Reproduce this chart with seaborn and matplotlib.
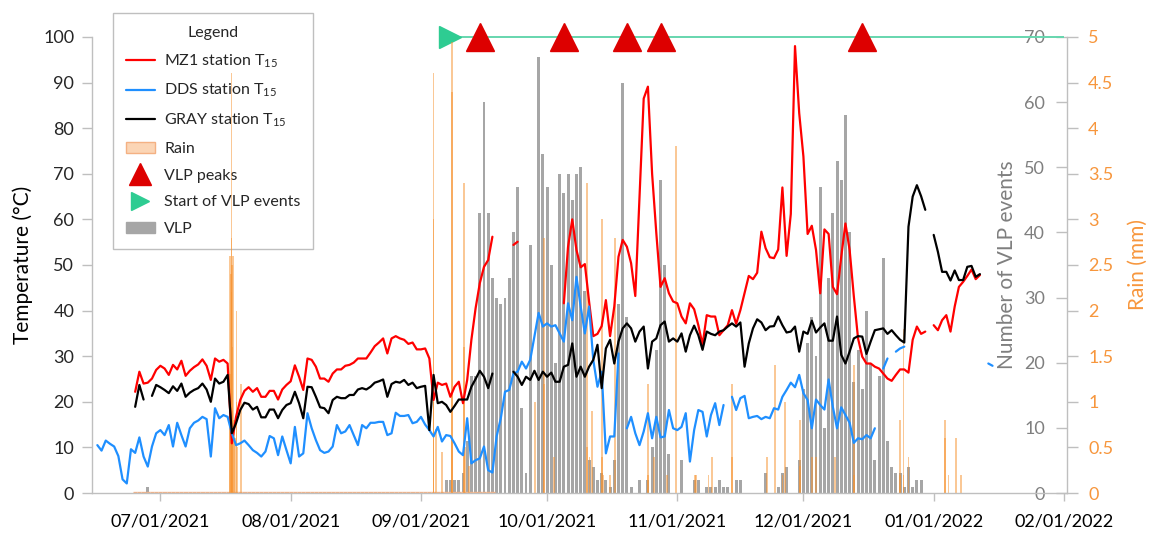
import numpy as np
import pandas as pd
import matplotlib
matplotlib.use("Agg")
import matplotlib.pyplot as plt
import matplotlib.dates as mdates
from matplotlib.lines import Line2D
from matplotlib.patches import Patch
import seaborn as sns

nan = np.nan

# Daily soil temperature at 15 cm (deg C)
mz1_start = "2021-06-25"
mz1_temp = [
    22.2, 26.6, 24.0, 24.2, 25.1, 27.0, 27.9, 27.3, 25.9, 28.1,
    27.1, 29.0, 25.7, 26.8, 27.6, 28.2, 29.3, 27.9, 24.8, 29.5,
    28.8, 29.2, 28.4, 10.9, 16.7, 20.4, 22.4, 23.2, 22.2, 23.0,
    21.1, 21.1, 22.4, 22.4, 20.5, 22.7, 23.7, 24.5, 28.0, 25.5,
    22.6, 29.5, 29.2, 27.7, 25.1, 25.1, 24.4, 26.2, 27.1, 27.1,
    27.9, 28.1, 28.6, 29.5, 29.5, 29.5, 30.8, 32.2, 33.0, 33.9,
    30.6, 33.9, 34.4, 33.9, 33.6, 32.7, 33.0, 31.5, 31.5, 31.7,
    29.5, 20.4, 24.2, 23.7, 24.0, 21.1, 23.3, 24.4, 19.7, 24.8,
    33.6, 40.5, 46.0, 49.6, 51.1, 56.2, nan, nan, nan, nan,
    54.4, 55.1, nan, nan, nan, nan, nan, nan, nan, nan,
    nan, nan, 41.6, 54.0, 60.0, 53.3, 49.5, 50.2, 42.0, 34.4,
    34.9, 36.6, 42.3, 34.4, 40.9, 51.8, 55.5, 54.0, 50.4, 43.2,
    65.0, 86.5, 89.1, 70.0, 57.0, 45.2, 47.1, 43.8, 42.0, 41.6,
    38.7, 37.2, 41.6, 40.3, 36.8, 32.5, 39.0, 38.7, 38.7, 34.6,
    35.7, 36.8, 40.1, 37.1, 40.1, 43.8, 47.6, 46.9, 48.3, 57.3,
    53.7, 51.7, 51.5, 53.4, 67.0, 52.0, 61.2, 98.0, 83.3, 73.8,
    56.8, 58.6, 53.3, 43.8, 57.8, 56.8, 45.2, 43.6, 51.8, 59.1,
    53.3, 43.1, 33.9, 29.9, 28.4, 28.4, 27.7, 27.3, 26.2, 25.1,
    24.6, 25.9, 27.1, 27.1, 26.4, 33.6, 36.5, 34.9, 35.4, nan,
    36.8, 35.7, 37.9, 39.0, 35.4, 40.9, 45.2, 46.3, 47.6, 49.0,
    46.9, 47.8,
]

dds_start = "2021-06-16"
dds_temp = [
    10.5, 9.3, 11.5, 10.8, 10.2, 8.1, 3.0, 2.1, 9.6, 8.8,
    12.2, 8.0, 5.8, 10.2, 13.1, 13.8, 12.7, 14.9, 10.2, 15.4,
    12.7, 10.2, 14.2, 15.4, 15.9, 16.7, 16.2, 8.0, 18.6, 16.4,
    17.1, 16.7, 13.1, 10.5, 10.9, 11.5, 10.5, 9.4, 8.8, 8.0,
    9.1, 12.5, 12.0, 8.3, 12.4, 9.4, 6.5, 14.5, 8.0, 8.7,
    17.5, 14.2, 11.6, 9.4, 8.8, 9.1, 10.2, 14.9, 13.1, 13.5,
    14.9, 12.7, 10.5, 14.9, 14.2, 15.4, 15.4, 15.6, 15.6, 12.7,
    13.1, 17.6, 16.9, 16.9, 17.1, 15.3, 15.6, 16.7, 15.0, 13.8,
    12.4, 14.5, 11.3, 12.7, 12.5, 10.9, 9.1, 8.3, 16.4, 6.5,
    7.2, 7.6, 10.2, 5.0, 4.5, 12.4, 16.4, 22.2, 22.6, 26.2,
    26.6, 28.8, 27.3, 29.2, 34.3, 39.5, 36.5, 37.2, 36.5, 36.8,
    35.0, 33.2, 41.6, 37.9, 47.4, 40.9, 35.0, 40.9, 29.2, 23.3,
    26.6, 8.7, 12.4, 12.4, 30.6, nan, 14.2, 16.7, 13.1, 10.5,
    13.5, 17.5, 12.0, 16.7, 12.2, 12.4, 18.2, 14.2, 13.8, 14.5,
    17.5, 6.9, 13.8, 18.2, 17.8, 12.4, 17.1, 19.7, 14.9, 19.3,
    nan, 21.1, 18.2, 20.8, 21.3, 16.4, 16.7, 16.9, 16.2, 16.7,
    16.4, 18.6, 18.3, 21.1, 22.6, 24.2, 23.2, 25.9, 21.9, 20.4,
    14.2, 20.5, 19.3, 18.3, 24.9, 18.9, 14.2, 18.8, 17.1, 15.4,
    11.0, 12.0, 11.8, 12.7, 12.0, 14.2, nan, 27.3, 29.5, nan,
    31.0, 31.7, 32.1, nan, nan, nan, nan, nan, nan, nan,
    nan, nan, nan, nan, nan, nan, nan, nan, nan, nan,
    nan, nan, 28.4, 27.9,
]

gray_start = "2021-06-25"
gray_temp = [
    18.9, 23.7, 20.5, nan, 21.3, 23.7, 23.2, 22.6, 21.9, 23.4,
    22.4, 24.0, 21.1, 22.0, 22.6, 23.0, 24.0, 22.7, 20.0, 25.1,
    24.0, 24.4, 25.9, 13.1, 15.3, 18.2, 19.8, 19.5, 18.3, 18.9,
    16.6, 16.6, 18.3, 18.3, 16.4, 18.2, 19.3, 19.7, 22.2, 19.7,
    16.4, 23.3, 23.2, 21.1, 18.8, 18.6, 17.5, 20.4, 21.1, 20.8,
    20.8, 21.5, 21.5, 22.7, 23.0, 22.7, 23.3, 24.2, 24.5, 24.9,
    21.1, 23.9, 24.4, 24.2, 24.8, 23.7, 24.2, 23.0, 23.3, 23.5,
    13.8, 25.9, 19.7, 20.0, 19.3, 17.8, 19.1, 20.5, 20.5, 20.5,
    23.3, 25.0, 26.8, 25.5, 23.0, 26.2, nan, nan, nan, nan,
    26.6, 25.5, 23.7, 25.5, 24.8, 26.8, 24.8, 26.6, 25.5, 26.4,
    24.4, 24.4, 27.7, 28.1, 32.8, 25.5, 27.7, 25.5, 27.7, 29.2,
    32.5, 23.0, 31.7, 33.6, 28.4, 33.2, 36.1, 37.2, 36.1, 33.2,
    35.4, 36.5, 27.3, 33.2, 33.9, 36.8, 37.6, 33.2, 33.9, 33.2,
    35.0, 31.0, 34.6, 36.7, 34.6, 31.4, 35.4, 34.9, 34.6, 35.4,
    35.7, 36.5, 37.2, 36.5, 37.4, 27.7, 32.8, 36.1, 38.1, 37.4,
    35.7, 36.5, 36.6, 38.7, 36.8, 35.2, 35.4, 36.5, 31.0, 35.4,
    34.9, 37.8, 35.2, 36.3, 37.2, 33.4, 33.4, 38.7, 30.3, 28.4,
    31.0, 33.9, 34.4, 34.3, 30.5, 33.2, 35.7, 35.9, 36.1, 34.9,
    35.7, 34.6, 33.6, 33.0, 58.4, 65.0, 67.5, 65.1, 62.1, nan,
    56.6, 52.9, 48.5, 48.5, 46.6, 48.8, 46.7, 46.7, 49.6, 49.8,
    47.4, 48.0,
]

# Daily number of VLP events
vlp_early_days = ["2021-06-28"]
vlp_early_count = [1]
vlp_start = "2021-09-07"
vlp_count = [
    2, 2, 2, 2, 3, 8, 18, 18, 43, 60,
    43, 33, 30, 29, 30, 33, 40, 47, 13, 3,
    38, 0, 67, 52, 47, 35, 20, 49, 46, 49,
    45, 49, 50, 31, 5, 4, 2, 3, 2, 1,
    5, 29, 63, 27, 1, 0, 2, 0, 2, 7,
    22, 48, 35, 6, 0, 0, 5, 0, 0, 2,
    2, 0, 1, 1, 1, 2, 1, 1, 0, 2,
    2, 0, 0, 0, 0, 0, 3, 0, 0, 1,
    3, 4, 0, 0, 5, 16, 23, 27, 21, 47,
    10, 33, 43, 51, 48, 58, 40, 17, 22, 16,
    28, 20, 5, 18, 36, 8, 4, 3, 3, 1,
    4, 1, 2, 2,
]

# Rain records (mm); records at the same time overlap
rain_time = [
    "2021-07-17 12:00", "2021-07-17 15:00", "2021-07-17 18:00", "2021-07-17 22:00",
    "2021-07-17 22:00", "2021-07-17 22:00", "2021-07-18 02:00", "2021-07-18 04:00",
    "2021-07-18 04:00", "2021-07-18 08:00", "2021-07-18 12:00", "2021-07-18 18:00",
    "2021-07-19 02:00", "2021-07-19 02:00", "2021-07-19 08:00", "2021-07-20 03:00",
    "2021-09-04 00:00", "2021-09-04 00:00", "2021-09-04 00:00", "2021-09-04 12:00",
    "2021-09-06 00:00", "2021-09-08 10:00", "2021-09-08 10:00", "2021-09-08 10:00",
    "2021-09-11 05:00", "2021-09-11 05:00", "2021-09-11 12:00", "2021-09-12 10:00",
    "2021-09-28 05:00", "2021-09-30 05:00", "2021-09-30 05:00", "2021-10-02 17:00",
    "2021-10-10 12:00", "2021-10-10 12:00", "2021-10-11 02:00", "2021-10-11 17:00",
    "2021-10-14 00:00", "2021-10-14 00:00", "2021-10-14 10:00", "2021-10-16 00:00",
    "2021-10-17 05:00", "2021-10-25 02:00", "2021-10-25 02:00", "2021-10-26 12:00",
    "2021-10-29 12:00", "2021-10-31 17:00",
    "2021-11-05 05:00", "2021-11-05 12:00", "2021-11-08 10:00", "2021-11-09 05:00",
    "2021-11-14 00:00", "2021-11-14 00:00", "2021-11-22 07:00", "2021-11-24 07:00",
    "2021-11-26 00:00", "2021-11-26 14:00", "2021-11-30 05:00", "2021-11-30 05:00",
    "2021-12-03 00:00", "2021-12-04 00:00", "2021-12-08 12:00", "2021-12-13 02:00",
    "2021-12-13 02:00", "2021-12-24 00:00", "2021-12-24 00:00", "2021-12-24 19:00",
    "2021-12-24 19:00", "2021-12-26 00:00",
    "2022-01-03 17:00", "2022-01-03 17:00", "2022-01-04 12:00", "2022-01-06 07:00",
    "2022-01-07 14:00",
]
rain_mm = [
    1.3, 2.6, 2.4, 4.6,
    2.8, 2.2, 2.5, 1.6,
    0.9, 2.6, 0.8, 0.6,
    2.0, 1.0, 0.5, 1.2,
    4.6, 3.0, 1.0, 0.7,
    0.45, 4.95, 4.4, 0.6,
    3.4, 1.6, 0.5, 0.3,
    1.0, 2.8, 1.2, 0.4,
    3.4, 0.5, 0.4, 0.9,
    3.0, 0.4, 0.2, 0.2,
    2.8, 1.2, 0.2, 0.4,
    0.2, 3.8,
    0.2, 0.2, 0.2, 0.4,
    1.2, 0.4, 0.4, 1.4,
    0.2, 1.0, 0.8, 0.3,
    0.4, 0.4, 0.4, 1.4,
    0.2, 0.8, 0.2, 1.8,
    0.2, 0.4,
    0.8, 0.6, 0.2, 0.6,
    0.2,
]
rain_record_first = "2021-06-25"
rain_record_last = "2021-09-18"

vlp_onset = ["2021-09-08"]
vlp_peaks = ["2021-09-15", "2021-10-05", "2021-10-20", "2021-10-28", "2021-12-15"]
window_end = "2022-02-01"

RED = "#FF0000"
BLUE = "#1F8FFF"
ORANGE = "#F7922E"
RAIN_TXT = "#F7963C"
GREY_TXT = "#7F7F7F"
AXIS_GREY = "#BFBFBF"
VLP_MAX = 70

sns.set_theme(style="white")
plt.rcParams["font.family"] = ["Lato", "DejaVu Sans"]
plt.rcParams["mathtext.default"] = "regular"

fig, ax = plt.subplots(figsize=(11.49, 5.39), dpi=100)
fig.subplots_adjust(left=0.0803, right=0.9289, bottom=0.0853, top=0.9314)
ax_v = ax.twinx()
ax_r = ax.twinx()
ax_v.set_zorder(1)
ax_r.set_zorder(2)
ax.set_zorder(3)
for a in (ax, ax_v, ax_r):
    a.patch.set_visible(False)

# VLP counts
vlp = pd.concat([
    pd.Series(vlp_early_count, index=pd.to_datetime(vlp_early_days)),
    pd.Series(vlp_count, index=pd.date_range(vlp_start, periods=len(vlp_count))),
])
ax_v.bar(vlp.index, vlp.values, width=0.7, color="#A6A6A6", linewidth=0)

# VLP window line and markers along the top
ax_v.hlines(VLP_MAX, pd.Timestamp(vlp_onset[0]), pd.Timestamp(window_end),
            color="#66D6AE", lw=1.4, zorder=3, clip_on=False)
ax_v.plot(pd.to_datetime(vlp_peaks), [VLP_MAX] * len(vlp_peaks), ls="none",
          marker="^", ms=20, color="#DD0000", zorder=5, clip_on=False)
ax_v.plot(pd.to_datetime(vlp_onset), [VLP_MAX], ls="none", marker=">", ms=16,
          color="#2ECC92", zorder=5, clip_on=False)

# rain
rec_days = pd.date_range(rain_record_first, rain_record_last)
ax_r.bar(rec_days, np.zeros(len(rec_days)), width=1.0, color="none",
         edgecolor="#F4B183", linewidth=2.4)
ax_r.bar(pd.to_datetime(rain_time), rain_mm, width=0.42, color=ORANGE,
         alpha=0.5, linewidth=0)

# temperatures
series = [
    (mz1_start, mz1_temp, RED),
    (dds_start, dds_temp, BLUE),
    (gray_start, gray_temp, "black"),
]
for start, vals, col in series:
    s = pd.Series(vals, index=pd.date_range(start, periods=len(vals)))
    ax.plot(s.index, s.values, color=col, lw=1.6)

# axes
ax.set_xlim(pd.Timestamp("2021-06-14 19:00"), pd.Timestamp("2022-02-01 19:00"))
ax.set_ylim(0, 100)
ax.set_yticks(range(0, 101, 10))
ax.xaxis.set_major_locator(mdates.MonthLocator())
ax.xaxis.set_major_formatter(mdates.DateFormatter("%m/%d/%Y"))
ax.tick_params(axis="x", bottom=True, direction="out", length=6, width=1,
               color=AXIS_GREY, pad=9, labelsize=13, labelcolor="black")
ax.tick_params(axis="y", left=True, direction="out", length=7, width=1,
               color=AXIS_GREY, pad=6, labelsize=13, labelcolor="#262626")
for side in ("top", "right"):
    ax.spines[side].set_visible(False)
for side in ("left", "bottom"):
    ax.spines[side].set_color(AXIS_GREY)
    ax.spines[side].set_linewidth(1)
ax.set_ylabel("Temperature (°C)", fontsize=15, color="black")
ax.yaxis.set_label_coords(-0.061, 0.5)

ax_v.set_ylim(0, VLP_MAX)
ax_v.set_yticks(range(0, VLP_MAX + 1, 10))
ax_v.tick_params(axis="y", right=True, left=False, direction="in", length=8,
                 width=1, color=AXIS_GREY, pad=-16, labelsize=13,
                 labelcolor=GREY_TXT)
for lab in ax_v.get_yticklabels():
    lab.set_horizontalalignment("right")
for side in ax_v.spines:
    ax_v.spines[side].set_visible(False)
ax_v.set_ylabel("Number of VLP events", fontsize=15, color=GREY_TXT)
ax_v.yaxis.set_label_coords(0.928, 0.5)

ax_r.set_ylim(0, 5)
ax_r.set_yticks(np.arange(0, 5.01, 0.5))
ax_r.yaxis.set_major_formatter(matplotlib.ticker.FormatStrFormatter("%g"))
ax_r.tick_params(axis="y", right=True, left=False, direction="out", length=8,
                 width=1, color=AXIS_GREY, pad=7, labelsize=13,
                 labelcolor=RAIN_TXT)
for side in ("top", "left", "bottom"):
    ax_r.spines[side].set_visible(False)
ax_r.spines["right"].set_color(AXIS_GREY)
ax_r.spines["right"].set_linewidth(1)
ax_r.set_ylabel("Rain (mm)", fontsize=15, color=RAIN_TXT)
ax_r.yaxis.set_label_coords(1.062, 0.5)

# legend
handles = [
    Line2D([], [], color=RED, lw=1.6),
    Line2D([], [], color=BLUE, lw=1.6),
    Line2D([], [], color="black", lw=1.6),
    Patch(facecolor="#FBD5B5", edgecolor="#F4B183"),
    Line2D([], [], ls="none", marker="^", ms=16, color="#DD0000"),
    Line2D([], [], ls="none", marker=">", ms=13, color="#2ECC92"),
    Patch(facecolor="#A6A6A6", edgecolor="#A6A6A6"),
]
labels = [
    "MZ1 station T$_{15}$",
    "DDS station T$_{15}$",
    "GRAY station T$_{15}$",
    "Rain",
    "VLP peaks",
    "Start of VLP events",
    "VLP",
]
leg = ax_v.legend(handles, labels, title="Legend", loc="upper left",
                  bbox_to_anchor=(113 / 1149, 1 - 13 / 539),
                  bbox_transform=fig.transFigure, borderaxespad=0,
                  fontsize=11.5, title_fontsize=11.5, frameon=True,
                  fancybox=False, framealpha=1, edgecolor=AXIS_GREY,
                  handlelength=1.8, handletextpad=0.6, labelspacing=0.78,
                  borderpad=0.8)
leg.get_frame().set_linewidth(1)

fig.savefig("out.png", dpi=100)
